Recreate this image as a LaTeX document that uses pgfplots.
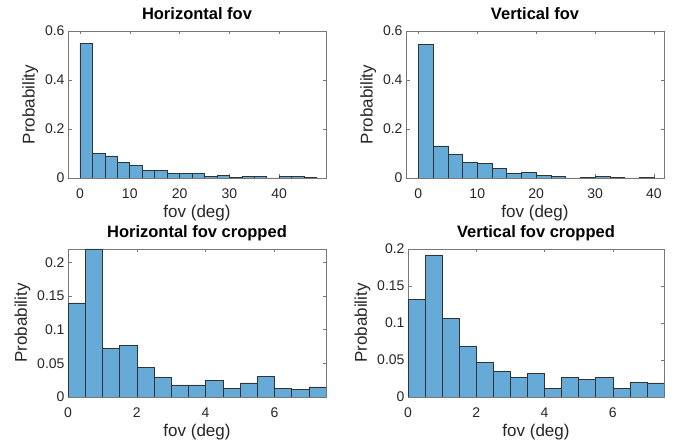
\documentclass[border=0pt]{standalone}
\usepackage{pgfplots}
\pgfplotsset{compat=1.18}
\usepackage{fontspec}
\setmainfont{Liberation Sans}

\definecolor{barblue}{RGB}{102,170,215}
\definecolor{axgray}{RGB}{120,120,120}
\definecolor{txt}{RGB}{38,38,38}

\pgfplotsset{
  histo/.style={
    scale only axis,
    anchor=south west,
    axis line style={axgray},
    tick style={axgray, line width=0.5pt},
    major tick length=3.5pt,
    tick align=inside,
    tick label style={font=\fontsize{14}{16}\selectfont, text=txt},
    xticklabel style={yshift=-7pt},
    label style={font=\fontsize{17}{19}\selectfont, text=txt},
    title style={font=\bfseries\fontsize{16.5}{18}\selectfont, text=black,
                 at={(0.5,1)}, anchor=base, yshift=5pt},
    /pgf/number format/assume math mode=true,
    /pgf/number format/fixed,
    /pgf/number format/precision=2,
    xlabel={fov (deg)},
    ylabel={Probability},
    ymin=0,
  },
  bars/.style={ybar interval, fill=barblue, draw=black!80, line width=0.6pt},
}

\begin{document}
\begin{tikzpicture}
\useasboundingbox (0,0) rectangle (676pt,443pt);

% top left
\begin{axis}[histo,
  at={(68pt,265pt)}, width=258pt, height=147pt,
  title={Horizontal fov},
  xmin=-2.4, xmax=49.4, ymax=0.6,
  xtick={0,10,20,30,40}, ytick={0,0.2,0.4,0.6}]
  \addplot[bars] coordinates {
    (0,0.550) (2.5,0.102) (5,0.090) (7.5,0.065) (10,0.050)
    (12.5,0.030) (15,0.030) (17.5,0.018) (20,0.018) (22.5,0.020)
    (25,0.005) (27.5,0.009) (30,0.003) (32.5,0.008) (35,0.005)
    (37.5,0) (40,0.005) (42.5,0.005) (45,0.003) (47.5,0)
  };
\end{axis}

% top right
\begin{axis}[histo,
  at={(406pt,265pt)}, width=258pt, height=147pt,
  title={Vertical fov},
  xmin=-2.1, xmax=41.7, ymax=0.6,
  xtick={0,10,20,30,40}, ytick={0,0.2,0.4,0.6}]
  \addplot[bars] coordinates {
    (0,0.545) (2.5,0.131) (5,0.097) (7.5,0.063) (10,0.059)
    (12.5,0.038) (15,0.019) (17.5,0.023) (20,0.011) (22.5,0.007)
    (25,0) (27.5,0.001) (30,0.005) (32.5,0.003) (35,0)
    (37.5,0.002) (40,0)
  };
\end{axis}

% bottom left
\begin{axis}[histo,
  at={(68pt,46pt)}, width=258pt, height=148pt,
  title={Horizontal fov cropped},
  xmin=0, xmax=7.5, ymax=0.22,
  xtick={0,2,4,6}, ytick={0,0.05,0.1,0.15,0.2}]
  \addplot[bars] coordinates {
    (0,0.140) (0.5,0.220) (1,0.072) (1.5,0.077) (2,0.044)
    (2.5,0.029) (3,0.018) (3.5,0.018) (4,0.025) (4.5,0.013)
    (5,0.021) (5.5,0.031) (6,0.013) (6.5,0.011) (7,0.015) (7.5,0)
  };
\end{axis}

% bottom right
\begin{axis}[histo,
  at={(408pt,46pt)}, width=256pt, height=148pt,
  title={Vertical fov cropped},
  xmin=0, xmax=7.5, ymax=0.2,
  xtick={0,2,4,6}, ytick={0,0.05,0.1,0.15,0.2}]
  \addplot[bars] coordinates {
    (0,0.132) (0.5,0.192) (1,0.106) (1.5,0.068) (2,0.047)
    (2.5,0.035) (3,0.027) (3.5,0.032) (4,0.012) (4.5,0.027)
    (5,0.024) (5.5,0.027) (6,0.012) (6.5,0.020) (7,0.019) (7.5,0)
  };
\end{axis}
\end{tikzpicture}
\end{document}
